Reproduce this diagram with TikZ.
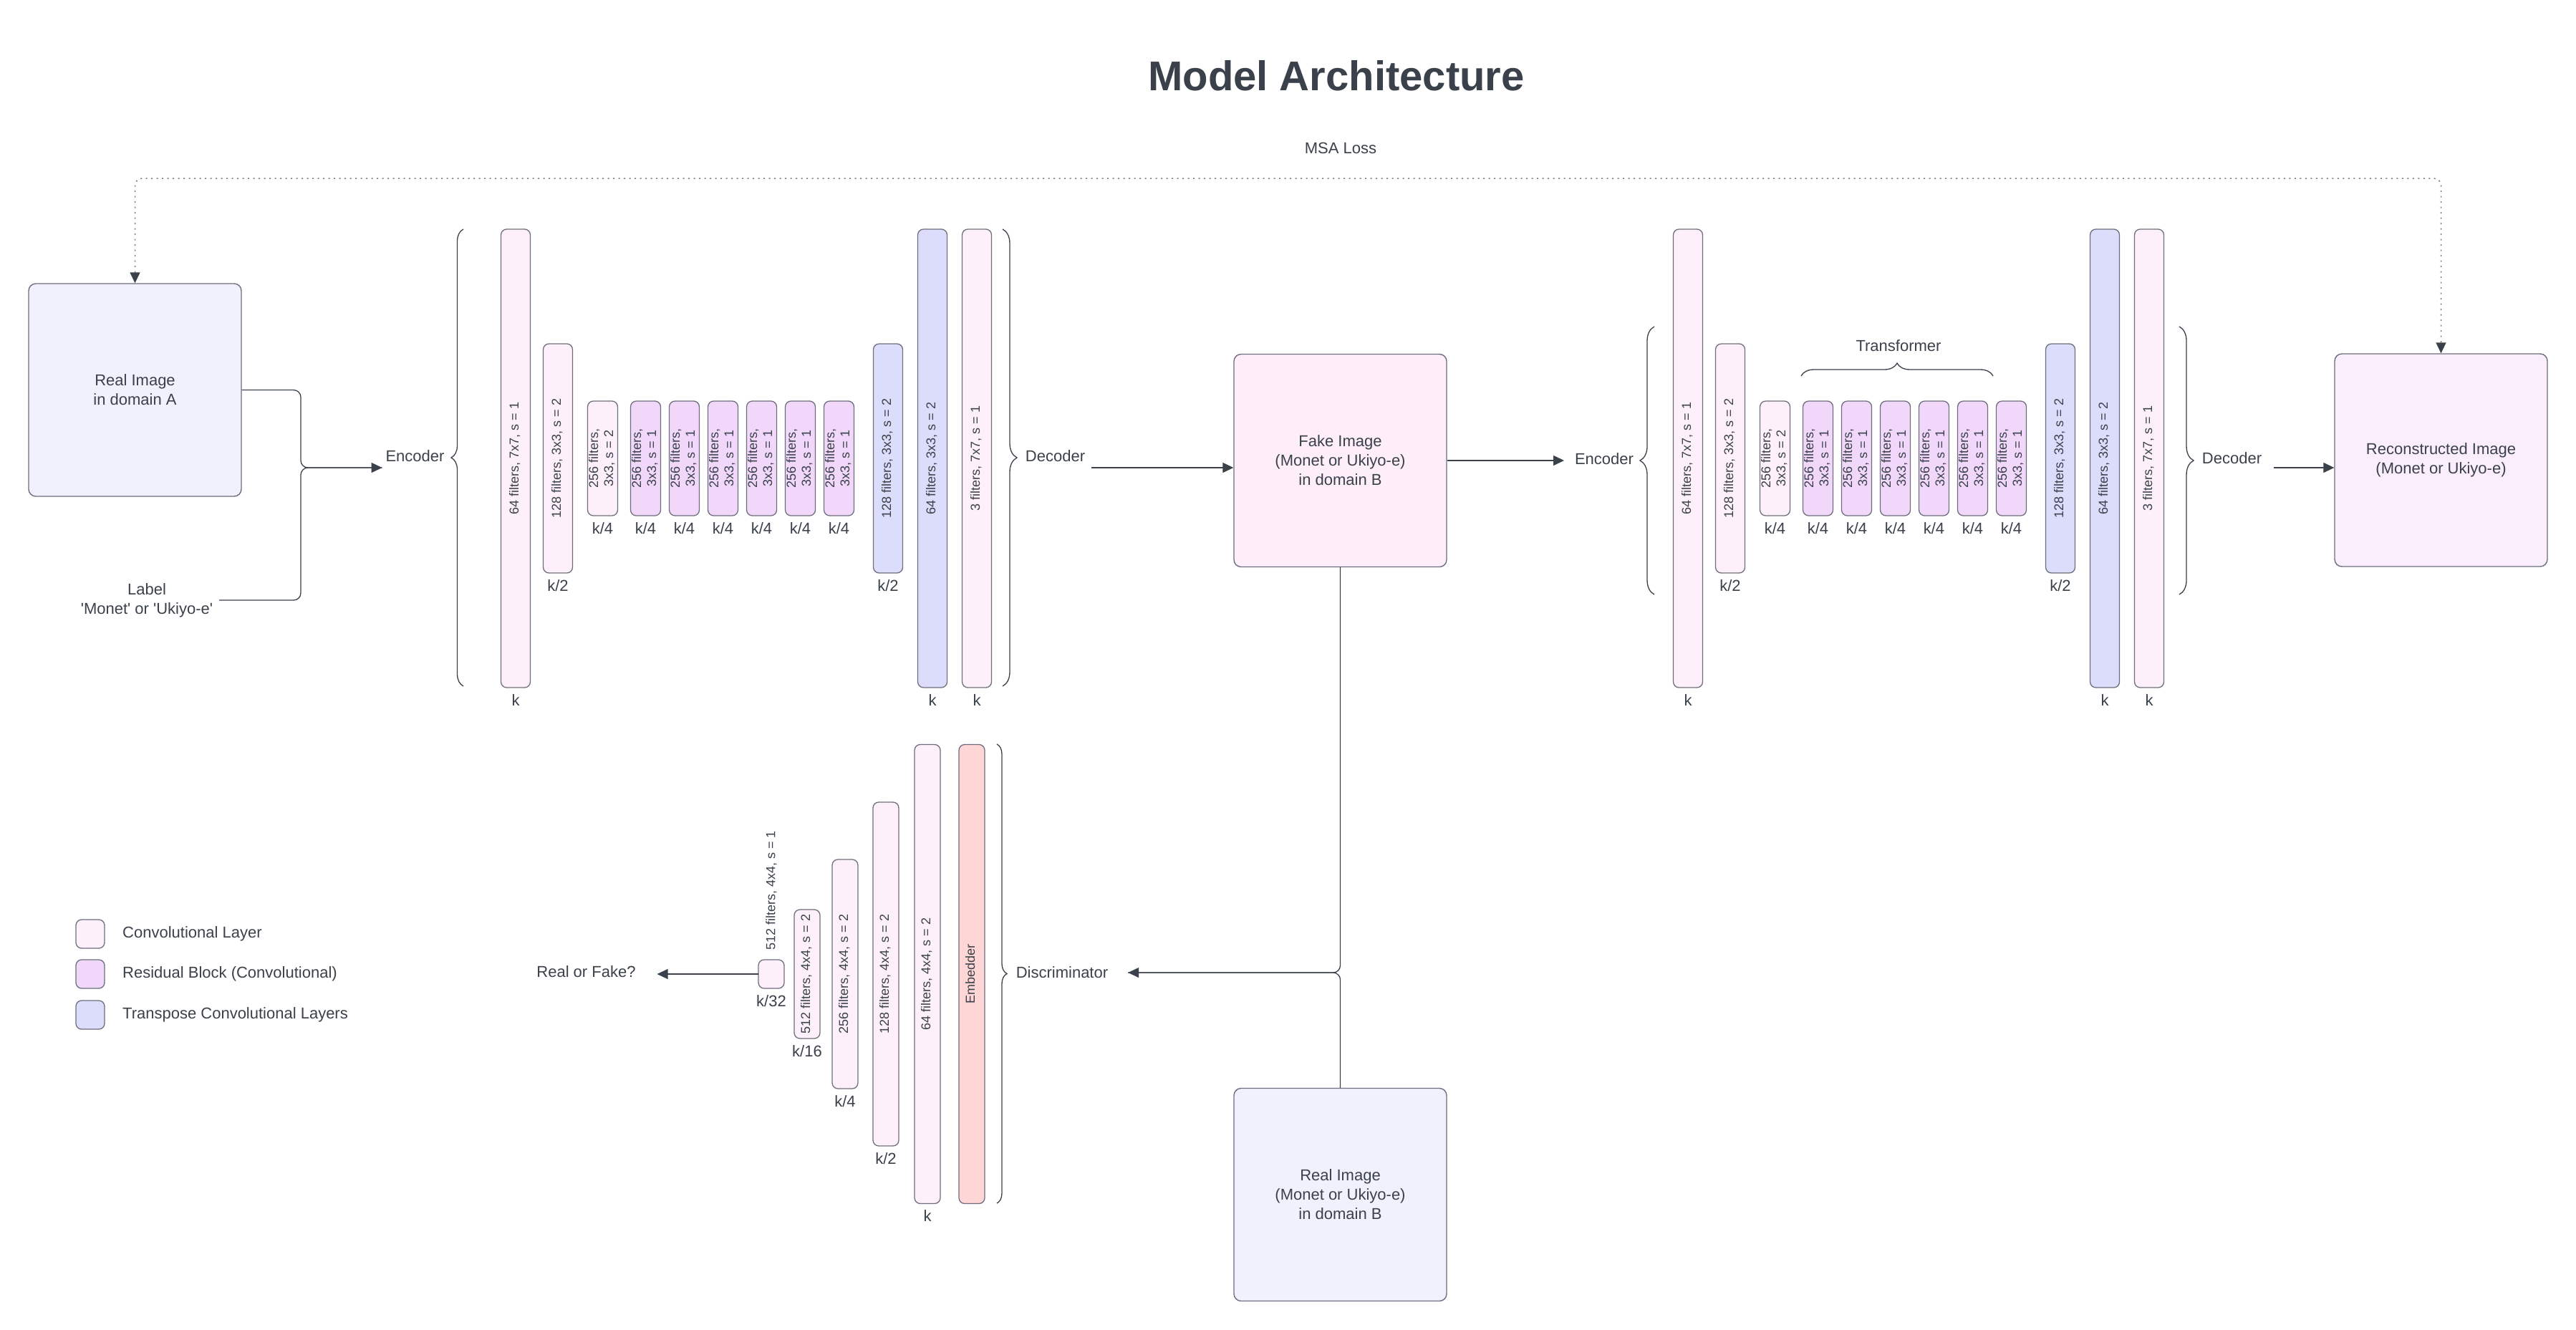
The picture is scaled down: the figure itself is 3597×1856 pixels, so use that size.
\documentclass[tikz,border=0pt]{standalone}
\usepackage{graphicx}
\usepackage{fontspec}
\setmainfont{Liberation Sans}
\usetikzlibrary{arrows.meta,positioning,decorations.pathreplacing}

\definecolor{ink}{HTML}{3A414A}
\definecolor{edgegray}{HTML}{6E6E7E}
\definecolor{dotgray}{HTML}{7A7A82}
\definecolor{convfill}{HTML}{FDF0FA}
\definecolor{resfill}{HTML}{F1D8FA}
\definecolor{tconvfill}{HTML}{DCDCFB}
\definecolor{embfill}{HTML}{FFD6D6}
\definecolor{realfill}{HTML}{F1F0FD}
\definecolor{fakefill}{HTML}{FDEEF9}
\definecolor{reconfill}{HTML}{FAEDFC}

\newcommand{\archbody}{\fontsize{22}{27}\selectfont}
\newcommand{\archsmall}{\fontsize{18}{21}\selectfont}
\newcommand{\archtitle}{\fontsize{58}{66}\selectfont\bfseries}
\newcommand{\vtext}[1]{\rotatebox{90}{\begin{tabular}{@{}c@{}}#1\end{tabular}}}

\begin{document}
\begin{tikzpicture}[x=1pt, y=-1pt, >={Triangle[length=15pt,width=14pt,color=ink]},
  txt/.style={font=\archbody, text=ink, align=center, inner sep=0pt},
  layer/.style={draw=edgegray, line width=1.3pt, rounded corners=8pt, inner sep=0pt, outer sep=0pt,
    minimum width=41pt, font=\archsmall, text=ink},
  conv/.style={layer, fill=convfill},
  resid/.style={layer, fill=resfill},
  tconv/.style={layer, fill=tconvfill},
  embed/.style={layer, fill=embfill},
  kl/.style={label={[txt, yshift=-9pt]below:#1}},
  imgbox/.style={draw=edgegray, line width=1.4pt, rounded corners=10pt, minimum width=297pt,
    minimum height=297pt, font=\archbody, text=ink, align=center},
  wire/.style={draw=ink, line width=1.3pt},
  brc/.style={draw=ink, line width=1.3pt, decorate, decoration={brace, amplitude=#1}},
  msa/.style={draw=dotgray, line width=1.5pt, dash pattern=on 2pt off 5.5pt, rounded corners=10pt}]

  \path[use as bounding box, fill=white] (0,0) rectangle (3597,1856);

  \node[txt, font=\archtitle] (title) at (1866,106) {Model Architecture};

  \node[imgbox, fill=realfill]  (realA) at (188.5,544.5) {Real Image\\in domain A};
  \node[imgbox, fill=fakefill]  (fake)  at (1871.5,643)  {Fake Image\\(Monet or Ukiyo-e)\\in domain B};
  \node[imgbox, fill=reconfill] (recon) at (3408.5,642.5) {Reconstructed Image\\(Monet or Ukiyo-e)};
  \node[imgbox, fill=realfill]  (realB) at (1871.5,1668) {Real Image\\(Monet or Ukiyo-e)\\in domain B};

  \node[txt, outer sep=9pt] (lbl) at (205,838) {Label\\\textquotesingle Monet\textquotesingle{} or \textquotesingle Ukiyo-e\textquotesingle};
  \node[txt, outer sep=5pt]  (encA) at (579.5,637)  {Encoder};
  \node[txt, outer sep=9pt]  (decA) at (1473.5,637) {Decoder};
  \node[txt, outer sep=15pt] (encB) at (2240,641)   {Encoder};
  \node[txt, outer sep=17pt] (decB) at (3116.5,640) {Decoder};
  \node[txt, outer sep=28pt] (disc) at (1483,1358)  {Discriminator};
  \node[txt, outer sep=30pt] (rf)   at (818.5,1357) {Real or Fake?};
  \node[txt] (trf)  at (2651,483) {Transformer};
  \node[txt] (msal) at (1872,207) {MSA Loss};

  \node[conv, minimum height=640pt, kl=k] (a1) at (720,640) {\vtext{64 filters, 7x7, s = 1}};
  \node[conv, minimum height=320pt, kl=k/2, right=18pt of a1] (a2) {\vtext{128 filters, 3x3, s = 2}};
  \node[conv, minimum height=160pt, kl=k/4, right=21pt of a2] (a3) {\vtext{256 filters,\\3x3, s = 2}};
  \node[resid, minimum height=160pt, kl=k/4, right=18pt of a3]  (ar1) {\vtext{256 filters,\\3x3, s = 1}};
  \node[resid, minimum height=160pt, kl=k/4, right=12pt of ar1] (ar2) {\vtext{256 filters,\\3x3, s = 1}};
  \node[resid, minimum height=160pt, kl=k/4, right=12pt of ar2] (ar3) {\vtext{256 filters,\\3x3, s = 1}};
  \node[resid, minimum height=160pt, kl=k/4, right=12pt of ar3] (ar4) {\vtext{256 filters,\\3x3, s = 1}};
  \node[resid, minimum height=160pt, kl=k/4, right=12pt of ar4] (ar5) {\vtext{256 filters,\\3x3, s = 1}};
  \node[resid, minimum height=160pt, kl=k/4, right=12pt of ar5] (ar6) {\vtext{256 filters,\\3x3, s = 1}};
  \node[tconv, minimum height=320pt, kl=k/2, right=27pt of ar6] (at1) {\vtext{128 filters, 3x3, s = 2}};
  \node[tconv, minimum height=640pt, kl=k, right=21pt of at1] (at2) {\vtext{64 filters, 3x3, s = 2}};
  \node[conv, minimum height=640pt, kl=k, right=21pt of at2] (aout) {\vtext{3 filters, 7x7, s = 1}};

  \node[conv, minimum height=640pt, kl=k] (b1) at (2357,640) {\vtext{64 filters, 7x7, s = 1}};
  \node[conv, minimum height=320pt, kl=k/2, right=18pt of b1] (b2) {\vtext{128 filters, 3x3, s = 2}};
  \node[conv, minimum height=160pt, kl=k/4, right=21pt of b2] (b3) {\vtext{256 filters,\\3x3, s = 2}};
  \node[resid, minimum height=160pt, kl=k/4, right=18pt of b3]  (br1) {\vtext{256 filters,\\3x3, s = 1}};
  \node[resid, minimum height=160pt, kl=k/4, right=12pt of br1] (br2) {\vtext{256 filters,\\3x3, s = 1}};
  \node[resid, minimum height=160pt, kl=k/4, right=12pt of br2] (br3) {\vtext{256 filters,\\3x3, s = 1}};
  \node[resid, minimum height=160pt, kl=k/4, right=12pt of br3] (br4) {\vtext{256 filters,\\3x3, s = 1}};
  \node[resid, minimum height=160pt, kl=k/4, right=12pt of br4] (br5) {\vtext{256 filters,\\3x3, s = 1}};
  \node[resid, minimum height=160pt, kl=k/4, right=12pt of br5] (br6) {\vtext{256 filters,\\3x3, s = 1}};
  \node[tconv, minimum height=320pt, kl=k/2, right=27pt of br6] (bt1) {\vtext{128 filters, 3x3, s = 2}};
  \node[tconv, minimum height=640pt, kl=k, right=21pt of bt1] (bt2) {\vtext{64 filters, 3x3, s = 2}};
  \node[conv, minimum height=640pt, kl=k, right=21pt of bt2] (bout) {\vtext{3 filters, 7x7, s = 1}};

  \node[embed, minimum width=36pt, minimum height=641pt] (emb) at (1357,1360) {\vtext{Embedder}};
  \node[conv, minimum width=36pt, minimum height=641pt, kl=k, left=26pt of emb] (d1) {\vtext{64 filters, 4x4, s = 2}};
  \node[conv, minimum width=36pt, minimum height=480pt, kl=k/2, left=22pt of d1] (d2) {\vtext{128 filters, 4x4, s = 2}};
  \node[conv, minimum width=36pt, minimum height=320pt, kl=k/4, left=21pt of d2] (d3) {\vtext{256 filters, 4x4, s = 2}};
  \node[conv, minimum width=36pt, minimum height=180pt, kl=k/16, left=17pt of d3] (d4) {\vtext{512 filters, 4x4, s = 2}};
  \node[conv, minimum width=36pt, minimum height=40pt, kl=k/32, left=14pt of d4] (d5) {};
  \node[txt, font=\archsmall, rotate=90, anchor=west] (d5t) at ([yshift=13pt]d5.north) {512 filters, 4x4, s = 1};

  \node[conv, minimum width=40pt, minimum height=40pt] (lg1) at (126,1304) {};
  \node[resid, minimum width=40pt, minimum height=40pt] (lg2) at (126,1360) {};
  \node[tconv, minimum width=40pt, minimum height=40pt] (lg3) at (126,1417) {};
  \node[txt, right=25pt of lg1] (lg1t) {Convolutional Layer};
  \node[txt, right=25pt of lg2] (lg2t) {Residual Block (Convolutional)};
  \node[txt, right=25pt of lg3] (lg3t) {Transpose Convolutional Layers};

  \draw[brc=17pt] (647,958) -- (647,320);
  \draw[brc=20pt] (1400,320) -- (1400,958);
  \draw[brc=20pt] (2310,830) -- (2310,456);
  \draw[brc=20pt] (3043,456) -- (3043,830);
  \draw[brc=14pt] (1392,1039) -- (1392,1680);
  \draw[brc=18pt] (2515,525) -- (2783,525);

  \coordinate (flowA) at (420,653);
  \coordinate (msaTop) at (1872,249);

  \draw[wire, ->, rounded corners=10pt] (realA.east) -| (flowA) -- (encA.west |- flowA);
  \draw[wire, rounded corners=10pt] (lbl.east) -| (flowA) -- (encA.west |- flowA);
  \draw[wire, ->] (decA.east |- flowA) -- (fake.west |- flowA);
  \draw[wire, ->] (fake.east) -- (encB.west |- fake.east);
  \draw[wire, ->] (decB.east |- flowA) -- (recon.west |- flowA);
  \draw[wire, ->, rounded corners=10pt] (fake.south) |- (disc.east);
  \draw[wire, rounded corners=10pt] (realB.north) |- (disc.east);
  \draw[wire, ->] (d5.west) -- (rf.east |- d5.west);
  \draw[msa, <->] (realA.north) |- (msaTop) -| (recon.north);
\end{tikzpicture}
\end{document}
